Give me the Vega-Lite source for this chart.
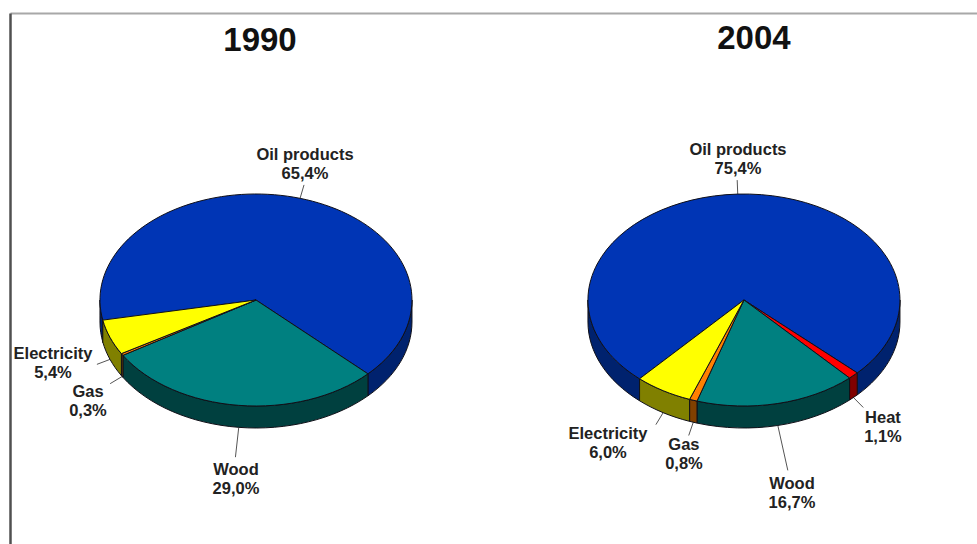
{
  "$schema": "https://vega.github.io/schema/vega-lite/v6.json",
  "width": 967,
  "height": 531,
  "autosize": {"type": "none"},
  "padding": {"left": 10, "top": 13, "right": 0, "bottom": 0},
  "background": "white",
  "view": {"stroke": null},
  "params": [
    {"name": "rx", "value": 156},
    {"name": "ry", "value": 106},
    {"name": "depth", "value": 22}
  ],
  "data": {
    "values": [
      {"year": 1990, "slice": 1, "source": "Oil products", "share": 65.4},
      {"year": 1990, "slice": 2, "source": "Wood", "share": 29.0},
      {"year": 1990, "slice": 3, "source": "Gas", "share": 0.3},
      {"year": 1990, "slice": 4, "source": "Electricity", "share": 5.4},
      {"year": 2004, "slice": 1, "source": "Oil products", "share": 75.4},
      {"year": 2004, "slice": 2, "source": "Heat", "share": 1.1},
      {"year": 2004, "slice": 3, "source": "Wood", "share": 16.7},
      {"year": 2004, "slice": 4, "source": "Gas", "share": 0.8},
      {"year": 2004, "slice": 5, "source": "Electricity", "share": 6.0}
    ]
  },
  "transform": [
    {"window": [{"op": "sum", "field": "share", "as": "cum"}], "groupby": ["year"], "sort": [{"field": "slice"}]},
    {"calculate": "(datum.year == 1990 ? -101.3 : -138) + 3.6 * (datum.cum - datum.share)", "as": "a0"},
    {"calculate": "(datum.year == 1990 ? -101.3 : -138) + 3.6 * datum.cum", "as": "a1"},
    {"calculate": "(datum.a0 + datum.a1) / 2 * PI / 180", "as": "mid"},
    {"calculate": "'M0,0L' + rx * sin(datum.a0 * PI / 180) + ',' + (-ry * cos(datum.a0 * PI / 180)) + 'A' + rx + ',' + ry + ' 0 ' + (datum.a1 - datum.a0 > 180 ? 1 : 0) + ' 1 ' + rx * sin(datum.a1 * PI / 180) + ',' + (-ry * cos(datum.a1 * PI / 180)) + 'Z'", "as": "topPath"},
    {"calculate": "max(datum.a0, 90)", "as": "s1"},
    {"calculate": "min(datum.a1, 270)", "as": "e1"},
    {"calculate": "max(datum.a0 + 360, 90)", "as": "s2"},
    {"calculate": "min(datum.a1 + 360, 270)", "as": "e2"},
    {"calculate": "datum.s1 < datum.e1 ? 'M' + rx * sin(datum.s1 * PI / 180) + ',' + (-ry * cos(datum.s1 * PI / 180)) + 'A' + rx + ',' + ry + ' 0 0 1 ' + rx * sin(datum.e1 * PI / 180) + ',' + (-ry * cos(datum.e1 * PI / 180)) + 'L' + rx * sin(datum.e1 * PI / 180) + ',' + (depth - ry * cos(datum.e1 * PI / 180)) + 'A' + rx + ',' + ry + ' 0 0 0 ' + rx * sin(datum.s1 * PI / 180) + ',' + (depth - ry * cos(datum.s1 * PI / 180)) + 'Z' : ''", "as": "side1"},
    {"calculate": "datum.s2 < datum.e2 ? 'M' + rx * sin(datum.s2 * PI / 180) + ',' + (-ry * cos(datum.s2 * PI / 180)) + 'A' + rx + ',' + ry + ' 0 0 1 ' + rx * sin(datum.e2 * PI / 180) + ',' + (-ry * cos(datum.e2 * PI / 180)) + 'L' + rx * sin(datum.e2 * PI / 180) + ',' + (depth - ry * cos(datum.e2 * PI / 180)) + 'A' + rx + ',' + ry + ' 0 0 0 ' + rx * sin(datum.s2 * PI / 180) + ',' + (depth - ry * cos(datum.s2 * PI / 180)) + 'Z' : ''", "as": "side2"},
    {"calculate": "datum.side1 + datum.side2", "as": "sidePath"},
    {"calculate": "datum.source == 'Wood' ? (datum.year == 1990 ? 30 : 46) : 14", "as": "leaderLength"},
    {"calculate": "'M' + rx * sin(datum.mid) + ',' + (-ry * cos(datum.mid) + (cos(datum.mid) < 0 ? depth : 0)) + 'L' + (rx * sin(datum.mid) + datum.leaderLength * sin(datum.mid)) + ',' + (-ry * cos(datum.mid) + (cos(datum.mid) < 0 ? depth : 0) - datum.leaderLength * cos(datum.mid))", "as": "leaderPath"},
    {"calculate": "datum.source + '\\n' + replace(format(datum.share, '.1f'), '.', ',') + '%'", "as": "label"}
  ],
  "encoding": {
    "x": {
      "field": "year",
      "type": "quantitative",
      "scale": {"domain": [1982.943, 2010.686], "nice": false, "zero": false},
      "axis": {"orient": "top", "title": null, "labels": false, "ticks": false, "grid": false, "domainColor": "#a8a8a8", "domainWidth": 2}
    },
    "y": {
      "datum": 0.5405,
      "type": "quantitative",
      "scale": {"domain": [0, 1], "reverse": true, "nice": false, "zero": false},
      "axis": {"orient": "left", "title": null, "labels": false, "ticks": false, "grid": false, "domainColor": "#505050", "domainWidth": 2.5}
    }
  },
  "layer": [
    {
      "mark": {"type": "point", "filled": true, "size": 4, "opacity": 1, "stroke": "#555555", "strokeWidth": 1},
      "encoding": {"shape": {"field": "leaderPath", "type": "nominal", "scale": null}}
    },
    {
      "mark": {"type": "point", "filled": true, "size": 4, "opacity": 1, "stroke": "#101018", "strokeWidth": 1},
      "encoding": {
        "shape": {"field": "sidePath", "type": "nominal", "scale": null},
        "fill": {
          "field": "source",
          "type": "nominal",
          "legend": null,
          "scale": {"domain": ["Oil products", "Wood", "Gas", "Electricity", "Heat"], "range": ["#00226e", "#00403f", "#804000", "#808000", "#800000"]}
        }
      }
    },
    {
      "mark": {"type": "point", "filled": true, "size": 4, "opacity": 1, "stroke": "#101018", "strokeWidth": 1},
      "encoding": {
        "shape": {"field": "topPath", "type": "nominal", "scale": null},
        "fill": {
          "field": "source",
          "type": "nominal",
          "legend": null,
          "scale": {"domain": ["Oil products", "Wood", "Gas", "Electricity", "Heat"], "range": ["#0035b5", "#008080", "#ff8000", "#ffff00", "#ff0000"]}
        }
      }
    },
    {
      "transform": [{"filter": "datum.year == 1990 && datum.slice == 1"}],
      "mark": {"type": "text", "font": "Liberation Sans", "fontWeight": "bold", "fontSize": 33, "fill": "#111111", "dx": 4, "dy": -259, "baseline": "middle"},
      "encoding": {"text": {"field": "year", "type": "nominal"}}
    },
    {
      "transform": [{"filter": "datum.year == 2004 && datum.slice == 1"}],
      "mark": {"type": "text", "font": "Liberation Sans", "fontWeight": "bold", "fontSize": 33, "fill": "#111111", "dx": 10, "dy": -261, "baseline": "middle"},
      "encoding": {"text": {"field": "year", "type": "nominal"}}
    },
    {
      "transform": [{"filter": "datum.year == 1990 && datum.source == 'Oil products'"}],
      "mark": {"type": "text", "font": "Liberation Sans", "fontWeight": "bold", "fontSize": 16.5, "lineHeight": 19, "lineBreak": "\n", "fill": "#222222", "baseline": "middle", "dx": 49, "dy": -145},
      "encoding": {"text": {"field": "label", "type": "nominal"}}
    },
    {
      "transform": [{"filter": "datum.year == 1990 && datum.source == 'Electricity'"}],
      "mark": {"type": "text", "font": "Liberation Sans", "fontWeight": "bold", "fontSize": 16.5, "lineHeight": 19, "lineBreak": "\n", "fill": "#222222", "baseline": "middle", "dx": -203, "dy": 54},
      "encoding": {"text": {"field": "label", "type": "nominal"}}
    },
    {
      "transform": [{"filter": "datum.year == 1990 && datum.source == 'Gas'"}],
      "mark": {"type": "text", "font": "Liberation Sans", "fontWeight": "bold", "fontSize": 16.5, "lineHeight": 19, "lineBreak": "\n", "fill": "#222222", "baseline": "middle", "dx": -168, "dy": 92},
      "encoding": {"text": {"field": "label", "type": "nominal"}}
    },
    {
      "transform": [{"filter": "datum.year == 1990 && datum.source == 'Wood'"}],
      "mark": {"type": "text", "font": "Liberation Sans", "fontWeight": "bold", "fontSize": 16.5, "lineHeight": 19, "lineBreak": "\n", "fill": "#222222", "baseline": "middle", "dx": -20, "dy": 170},
      "encoding": {"text": {"field": "label", "type": "nominal"}}
    },
    {
      "transform": [{"filter": "datum.year == 2004 && datum.source == 'Oil products'"}],
      "mark": {"type": "text", "font": "Liberation Sans", "fontWeight": "bold", "fontSize": 16.5, "lineHeight": 19, "lineBreak": "\n", "fill": "#222222", "baseline": "middle", "dx": -6, "dy": -150},
      "encoding": {"text": {"field": "label", "type": "nominal"}}
    },
    {
      "transform": [{"filter": "datum.year == 2004 && datum.source == 'Electricity'"}],
      "mark": {"type": "text", "font": "Liberation Sans", "fontWeight": "bold", "fontSize": 16.5, "lineHeight": 19, "lineBreak": "\n", "fill": "#222222", "baseline": "middle", "dx": -136, "dy": 134},
      "encoding": {"text": {"field": "label", "type": "nominal"}}
    },
    {
      "transform": [{"filter": "datum.year == 2004 && datum.source == 'Gas'"}],
      "mark": {"type": "text", "font": "Liberation Sans", "fontWeight": "bold", "fontSize": 16.5, "lineHeight": 19, "lineBreak": "\n", "fill": "#222222", "baseline": "middle", "dx": -60, "dy": 145},
      "encoding": {"text": {"field": "label", "type": "nominal"}}
    },
    {
      "transform": [{"filter": "datum.year == 2004 && datum.source == 'Wood'"}],
      "mark": {"type": "text", "font": "Liberation Sans", "fontWeight": "bold", "fontSize": 16.5, "lineHeight": 19, "lineBreak": "\n", "fill": "#222222", "baseline": "middle", "dx": 48, "dy": 184},
      "encoding": {"text": {"field": "label", "type": "nominal"}}
    },
    {
      "transform": [{"filter": "datum.year == 2004 && datum.source == 'Heat'"}],
      "mark": {"type": "text", "font": "Liberation Sans", "fontWeight": "bold", "fontSize": 16.5, "lineHeight": 19, "lineBreak": "\n", "fill": "#222222", "baseline": "middle", "dx": 139, "dy": 118},
      "encoding": {"text": {"field": "label", "type": "nominal"}}
    }
  ],
  "resolve": {"scale": {"fill": "independent"}}
}
